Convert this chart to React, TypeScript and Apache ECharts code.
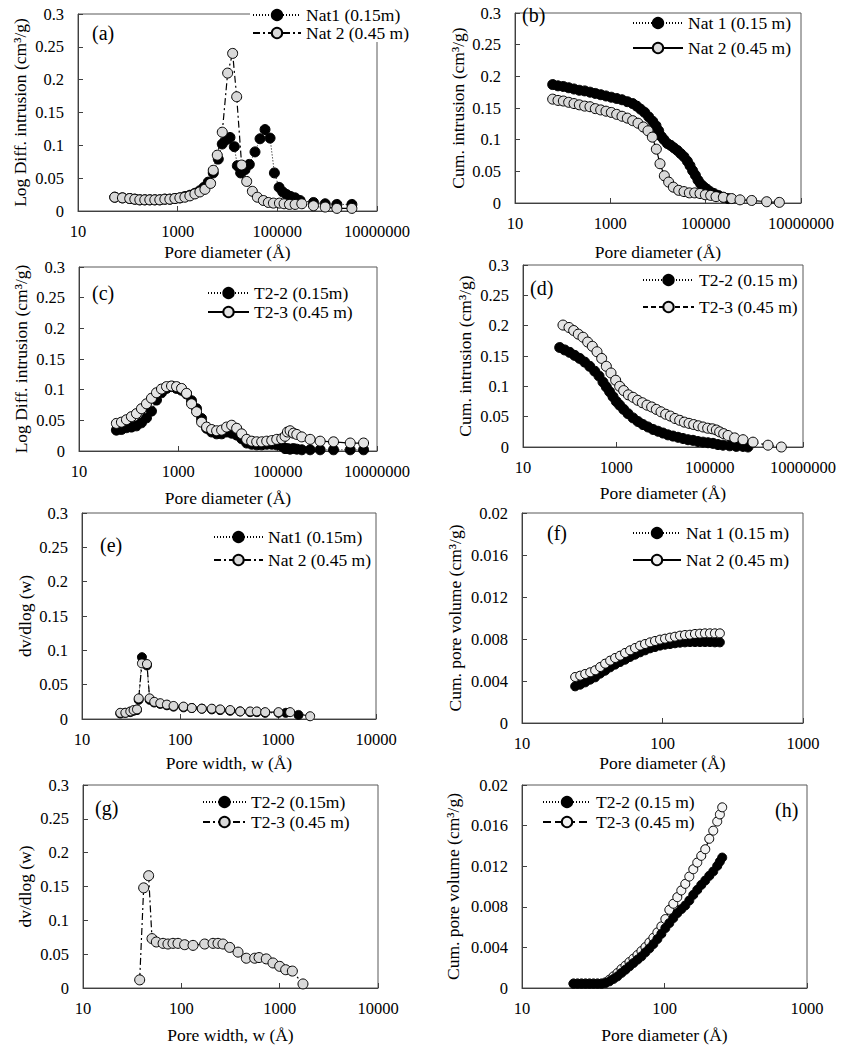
import React, { useEffect, useRef } from "react";
import * as echarts from "echarts";

const FONT = "Liberation Serif";

// ---------- (a) Log diff. intrusion, Nat ----------
const aNat1X = [54.6, 77.9, 109, 138, 174, 219, 276, 348, 438, 553, 697, 879, 1107, 1396, 1758, 2218, 2793, 3365, 4111, 5176, 6531, 7852, 9616, 11220, 13710, 15740, 18370, 22450, 27420, 35650, 44980, 56620, 71450, 87300, 108400, 128500, 154500, 185800, 227500, 286400, 531000, 912000, 1563000, 3133000];
const aNat1Y = [0.021, 0.020, 0.019, 0.018, 0.017, 0.017, 0.017, 0.017, 0.017, 0.018, 0.018, 0.019, 0.020, 0.022, 0.024, 0.027, 0.031, 0.036, 0.044, 0.058, 0.079, 0.102, 0.109, 0.112, 0.098, 0.069, 0.058, 0.063, 0.071, 0.090, 0.110, 0.124, 0.111, 0.058, 0.036, 0.029, 0.025, 0.022, 0.020, 0.016, 0.013, 0.011, 0.010, 0.010];
const aNat2X = [54.6, 77.9, 109, 138, 174, 219, 276, 348, 438, 553, 697, 879, 1107, 1396, 1758, 2218, 2793, 3524, 4581, 5176, 6237, 7852, 10070, 12680, 15280, 19230, 24270, 31550, 39720, 52480, 66070, 83370, 110200, 136500, 174900, 227500, 309700, 531000, 912000, 1563000, 3133000];
const aNat2Y = [0.021, 0.020, 0.019, 0.018, 0.017, 0.017, 0.017, 0.017, 0.017, 0.018, 0.018, 0.019, 0.020, 0.021, 0.023, 0.026, 0.029, 0.033, 0.042, 0.062, 0.085, 0.120, 0.210, 0.240, 0.174, 0.070, 0.045, 0.030, 0.021, 0.016, 0.013, 0.012, 0.012, 0.011, 0.010, 0.010, 0.011, 0.008, 0.006, 0.004, 0.004];

// ---------- (b) Cum. intrusion, Nat ----------
const bNat1X = [61.7, 79.8, 103.3, 133.6, 172.9, 223.7, 289.4, 374.5, 484.5, 627, 811, 1050, 1358, 1757, 2273, 2941, 3567, 4329, 5252, 6373, 7731, 9078, 10330, 11750, 13360, 15700, 18440, 21660, 25440, 29890, 35120, 41260, 46920, 53380, 60710, 69060, 78560, 89340, 104950, 123300, 149500, 184400, 234800, 298900];
const bNat1Y = [0.187, 0.185, 0.184, 0.182, 0.180, 0.178, 0.177, 0.175, 0.173, 0.171, 0.169, 0.167, 0.165, 0.163, 0.160, 0.157, 0.153, 0.148, 0.143, 0.136, 0.129, 0.122, 0.114, 0.105, 0.100, 0.094, 0.091, 0.087, 0.083, 0.078, 0.073, 0.066, 0.059, 0.051, 0.044, 0.036, 0.030, 0.026, 0.022, 0.018, 0.015, 0.012, 0.009, 0.007];
const bNat2X = [61.7, 79.8, 103.3, 133.6, 172.9, 223.7, 289.4, 374.5, 484.5, 627, 811, 1050, 1358, 1757, 2273, 2941, 3805, 4923, 6170, 7607, 9226, 11020, 13580, 16740, 20970, 27140, 35120, 45430, 58790, 76070, 98400, 127300, 164800, 234800, 351200, 525200, 922600, 1904000, 3512000];
const bNat2Y = [0.164, 0.162, 0.161, 0.159, 0.157, 0.155, 0.153, 0.152, 0.149, 0.147, 0.145, 0.143, 0.140, 0.137, 0.134, 0.130, 0.126, 0.120, 0.114, 0.104, 0.085, 0.062, 0.043, 0.033, 0.025, 0.020, 0.018, 0.016, 0.016, 0.015, 0.013, 0.012, 0.010, 0.009, 0.007, 0.005, 0.004, 0.002, 0.001];

// ---------- (c) Log diff. intrusion, T2 ----------
const cX = [56.6, 71.5, 90.2, 113.7, 143.5, 180.9, 228.3, 288, 363.3, 458.3, 578, 729.2, 919.8, 1160, 1464, 1846, 2329, 2938, 3707, 4676, 5898, 7440, 9385, 11840, 14940, 18840, 23770, 29990, 37830, 47720, 60190, 75930, 95760, 120800, 141000, 157200, 177900, 207700, 242500, 305900, 450600, 716900, 1332000, 2889000, 5367000];
const cT22Y = [0.034, 0.035, 0.038, 0.039, 0.041, 0.046, 0.054, 0.065, 0.083, 0.095, 0.102, 0.105, 0.102, 0.099, 0.093, 0.082, 0.069, 0.053, 0.037, 0.031, 0.028, 0.028, 0.031, 0.029, 0.026, 0.020, 0.013, 0.011, 0.010, 0.010, 0.011, 0.011, 0.010, 0.008, 0.004, 0.004, 0.003, 0.004, 0.003, 0.002, 0.002, 0.002, 0.002, 0.002, 0.002];
const cT23Y = [0.045, 0.047, 0.051, 0.056, 0.061, 0.069, 0.077, 0.086, 0.095, 0.101, 0.105, 0.106, 0.105, 0.102, 0.094, 0.077, 0.064, 0.047, 0.039, 0.035, 0.033, 0.034, 0.039, 0.042, 0.037, 0.028, 0.019, 0.016, 0.015, 0.015, 0.016, 0.017, 0.019, 0.020, 0.024, 0.031, 0.033, 0.029, 0.027, 0.023, 0.019, 0.016, 0.015, 0.013, 0.013];

// ---------- (d) Cum. intrusion, T2 ----------
const dT22X = [61.1, 78.1, 100, 128, 163.8, 209.6, 268.3, 343.4, 425.2, 518, 610.5, 719.7, 848.2, 1000, 1179, 1436, 1778, 2276, 2913, 3728, 4771, 6105, 7813, 10000, 12800, 16380, 20960, 26830, 34340, 43940, 56230, 71970, 92120, 117900, 150900, 193100, 268300, 372800, 518000, 662800];
const dT22Y = [0.164, 0.160, 0.156, 0.151, 0.146, 0.140, 0.133, 0.125, 0.117, 0.107, 0.099, 0.091, 0.083, 0.075, 0.069, 0.062, 0.055, 0.048, 0.042, 0.037, 0.033, 0.029, 0.026, 0.023, 0.020, 0.018, 0.016, 0.014, 0.012, 0.011, 0.009, 0.008, 0.007, 0.006, 0.004, 0.003, 0.002, 0.001, 0.001, 0.000];
const dT23X = [71.9, 96.8, 121.8, 153.3, 193.1, 243, 306, 385.2, 485, 610.5, 768.6, 967.6, 1179, 1436, 1808, 2276, 2865, 3607, 4541, 5717, 7197, 9061, 11410, 14360, 18080, 22760, 28650, 36070, 45410, 57170, 71970, 90610, 114100, 139000, 163800, 199500, 247100, 343400, 518000, 848200, 1778000, 3434000];
const dT23Y = [0.201, 0.197, 0.192, 0.186, 0.181, 0.173, 0.166, 0.157, 0.146, 0.133, 0.122, 0.110, 0.100, 0.093, 0.086, 0.082, 0.077, 0.073, 0.069, 0.066, 0.062, 0.058, 0.054, 0.051, 0.047, 0.044, 0.041, 0.039, 0.037, 0.035, 0.033, 0.031, 0.030, 0.028, 0.025, 0.022, 0.019, 0.015, 0.012, 0.008, 0.003, 0.000];

// ---------- (e) dv/dlog(w), Nat ----------
const eNat1X = [24.6, 27.7, 31.1, 33.6, 36.4, 37.9, 40.9, 46.0, 49.0, 54.6, 62.9, 73.5, 85.9, 108.6, 132, 167, 211, 257, 325, 411, 520, 608, 740, 1012, 1200, 1618];
const eNat1Y = [0.008, 0.009, 0.010, 0.012, 0.013, 0.028, 0.090, 0.078, 0.028, 0.024, 0.022, 0.020, 0.018, 0.017, 0.016, 0.015, 0.014, 0.013, 0.012, 0.011, 0.010, 0.010, 0.009, 0.009, 0.009, 0.006];
const eNat2X = [24.6, 27.7, 31.1, 33.6, 36.4, 37.9, 40.9, 46.0, 49.0, 54.6, 62.9, 73.5, 85.9, 108.6, 132, 167, 211, 257, 325, 411, 520, 608, 740, 1012, 1330, 2128];
const eNat2Y = [0.009, 0.009, 0.011, 0.013, 0.014, 0.030, 0.081, 0.080, 0.030, 0.025, 0.023, 0.021, 0.019, 0.018, 0.016, 0.015, 0.015, 0.014, 0.013, 0.011, 0.011, 0.011, 0.010, 0.010, 0.010, 0.004];

// ---------- (f) Cum. pore volume, Nat ----------
const fX = [23.9, 25.96, 28.18, 30.57, 33.17, 36.0, 39.06, 42.4, 46.0, 49.9, 54.17, 58.78, 63.78, 69.22, 75.12, 81.5, 88.45, 95.98, 104.2, 113.1, 122.7, 133.2, 144.5, 156.8, 170.2, 184.7, 200.4, 217.5, 236.0, 256.1];
const fNat1Y = [0.00349, 0.00365, 0.00387, 0.00413, 0.00435, 0.00470, 0.00498, 0.00530, 0.00556, 0.00581, 0.00603, 0.00629, 0.00651, 0.00673, 0.00692, 0.00711, 0.00724, 0.00737, 0.00746, 0.00752, 0.00759, 0.00765, 0.00768, 0.00771, 0.00771, 0.00771, 0.00771, 0.00771, 0.00768, 0.00768];
const fNat2Y = [0.00438, 0.00451, 0.00467, 0.00483, 0.00502, 0.00533, 0.00565, 0.00594, 0.00619, 0.00641, 0.00667, 0.00692, 0.00714, 0.00737, 0.00752, 0.00768, 0.00781, 0.00794, 0.00803, 0.00813, 0.00822, 0.00832, 0.00838, 0.00841, 0.00848, 0.00851, 0.00854, 0.00854, 0.00854, 0.00854];

// ---------- (g) dv/dlog(w), T2 ----------
const gT22X: number[] = [];
const gT22Y: number[] = [];
const gT23X = [37.7, 41.4, 46.5, 50.3, 55.7, 65.2, 73.1, 82.2, 92.5, 108, 131.5, 172.7, 210, 236, 265, 310, 377, 458, 557, 617, 731, 855, 1000, 1151, 1346, 1726];
const gT23Y = [0.012, 0.148, 0.166, 0.073, 0.068, 0.066, 0.065, 0.066, 0.066, 0.064, 0.063, 0.065, 0.066, 0.066, 0.065, 0.060, 0.053, 0.044, 0.044, 0.045, 0.043, 0.037, 0.032, 0.027, 0.025, 0.006];

// ---------- (h) Cum. pore volume, T2 ----------
const hX = [23.0, 24.53, 26.16, 27.91, 29.77, 31.76, 33.88, 36.13, 38.54, 41.11, 43.84, 46.77, 49.88, 53.2, 56.75, 60.53, 64.56, 68.86, 73.45, 78.34, 83.56, 89.13, 95.07, 101.4, 108.1, 115.3, 123, 131.2, 139.9, 149.3, 159.2, 169.8, 181.1, 193.2, 206.1, 219.8, 234.4, 244.7, 254.1];
const hT22Y = [0.00043, 0.00043, 0.00043, 0.00043, 0.00043, 0.00043, 0.00043, 0.00043, 0.00049, 0.00066, 0.00089, 0.00115, 0.00148, 0.0018, 0.00213, 0.00246, 0.00279, 0.00311, 0.00351, 0.0039, 0.00433, 0.00482, 0.00534, 0.0059, 0.00639, 0.00689, 0.00738, 0.00777, 0.00813, 0.00862, 0.00918, 0.00967, 0.01016, 0.01059, 0.01105, 0.01148, 0.01203, 0.01246, 0.01285];
const hT23Y = [0.00043, 0.00043, 0.00043, 0.00043, 0.00043, 0.00043, 0.00043, 0.00043, 0.00056, 0.00082, 0.00115, 0.00148, 0.00187, 0.0022, 0.00256, 0.00289, 0.00325, 0.00364, 0.00403, 0.00449, 0.00495, 0.00548, 0.00607, 0.00679, 0.0077, 0.0083, 0.00895, 0.00961, 0.01026, 0.01098, 0.0117, 0.01236, 0.01302, 0.01367, 0.0147, 0.0155, 0.0164, 0.0171, 0.0178];

// ---------- texts ----------
const panelLetters = ["(a)", "(b)", "(c)", "(d)", "(e)", "(f)", "(g)", "(h)"];
const xTitles = ["Pore diameter (Å)", "Pore diameter (Å)", "Pore diameter (Å)", "Pore diameter (Å)", "Pore width, w (Å)", "Pore diameter (Å)", "Pore width, w (Å)", "Pore diameter (Å)"];
const yTitles = ["Log Diff. intrusion (cm³/g)", "Cum. intrusion (cm³/g)", "Log Diff. intrusion (cm³/g)", "Cum. intrusion (cm³/g)", "dv/dlog (w)", "Cum. pore volume (cm³/g)", "dv/dlog (w)", "Cum. pore volume (cm³/g)"];
const legendLabels = [
  ["Nat1 (0.15m)", "Nat 2 (0.45 m)"],
  ["Nat 1 (0.15 m)", "Nat 2 (0.45 m)"],
  ["T2-2 (0.15m)", "T2-3 (0.45 m)"],
  ["T2-2 (0.15 m)", "T2-3 (0.45 m)"],
  ["Nat1 (0.15m)", "Nat 2 (0.45 m)"],
  ["Nat 1 (0.15 m)", "Nat 2 (0.45 m)"],
  ["T2-2 (0.15m)", "T2-3 (0.45 m)"],
  ["T2-2 (0.15 m)", "T2-3 (0.45 m)"],
];

const zip = (xs: number[], ys: number[]) => xs.map((x, i) => [x, ys[i]]);

const panelData = [
  [zip(aNat1X, aNat1Y), zip(aNat2X, aNat2Y)],
  [zip(bNat1X, bNat1Y), zip(bNat2X, bNat2Y)],
  [zip(cX, cT22Y), zip(cX, cT23Y)],
  [zip(dT22X, dT22Y), zip(dT23X, dT23Y)],
  [zip(eNat1X, eNat1Y), zip(eNat2X, eNat2Y)],
  [zip(fX, fNat1Y), zip(fX, fNat2Y)],
  [zip(gT22X, gT22Y), zip(gT23X, gT23Y)],
  [zip(hX, hT22Y), zip(hX, hT23Y)],
];

// layout / style per panel
type L = {
  grid: number[]; xr: number[]; yr: number[]; xg: number; yg: number;
  leg: number[]; letter: number[]; size: number; fill: string; dash2: any; blackTop?: boolean;
};
const layout: L[] = [
  { grid: [78, 14, 299, 197], xr: [10, 1e7, 2], yr: [0.3, 0.05], xg: 32, yg: 49, leg: [252, 6, 0, 48], letter: [92, 33], size: 10, fill: "#d9d9d9", dash2: [7, 3, 2, 3] },
  { grid: [515, 13, 286, 190], xr: [10, 1e7, 2], yr: [0.3, 0.05], xg: 40, yg: 48, leg: [632, 14, 7, 50], letter: [522, 15], size: 10, fill: "#d9d9d9", dash2: "solid" },
  { grid: [79, 267, 298, 184], xr: [10, 1e7, 2], yr: [0.3, 0.05], xg: 38, yg: 49, leg: [207, 284, 1, 41], letter: [92, 293], size: 10, fill: "#e4e4e4", dash2: "solid" },
  { grid: [523, 265, 280, 182], xr: [10, 1e7, 2], yr: [0.3, 0.05], xg: 37, yg: 49, leg: [642, 271, 9, 51], letter: [530, 288], size: 10, fill: "#e4e4e4", dash2: [5, 3] },
  { grid: [82, 513, 294, 206], xr: [10, 10000, 1], yr: [0.3, 0.05], xg: 35, yg: 48, leg: [213, 528, 5, 49], letter: [100, 545], size: 9, fill: "#d9d9d9", dash2: [7, 3, 2, 3] },
  { grid: [522, 513, 281, 210], xr: [10, 1000, 1], yr: [0.02, 0.004], xg: 31, yg: 58, leg: [632, 524, 9, 48], letter: [547, 533], size: 9, fill: "#efefef", dash2: "solid" },
  { grid: [83, 785, 295, 203], xr: [10, 10000, 1], yr: [0.3, 0.05], xg: 38, yg: 49, leg: [202, 793, 2, 43], letter: [95, 808], size: 10, fill: "#d9d9d9", dash2: [7, 3, 2, 3] },
  { grid: [522, 785, 285, 203], xr: [10, 1000, 1], yr: [0.02, 0.004], xg: 38, yg: 60, leg: [542, 793, 2, 48], letter: [775, 810], size: 9, fill: "#f4f4f4", dash2: [8, 4], blackTop: true },
];

const AX = "#404040";

function buildOption() {
  const grid: any[] = [];
  const xAxis: any[] = [];
  const yAxis: any[] = [];
  const series: any[] = [];
  const legend: any[] = [];
  const graphic: any[] = [];
  const labelById: Record<string, string> = {};

  layout.forEach((p, i) => {
    const [l, t, w, h] = p.grid;
    grid.push({ left: l, top: t, width: w, height: h, show: true, borderColor: "#595959", borderWidth: 1, backgroundColor: "transparent" });
    xAxis.push({
      type: "log", logBase: 10, gridIndex: i, min: p.xr[0], max: p.xr[1], interval: p.xr[2],
      name: xTitles[i], nameLocation: "middle", nameGap: p.xg,
      nameTextStyle: { fontFamily: FONT, fontSize: 17.5, color: "#000" },
      axisLine: { show: true, lineStyle: { color: AX, width: 1 } },
      axisTick: { show: true, inside: true, length: 5, lineStyle: { color: AX } },
      minorTick: { show: false },
      splitLine: { show: false },
      axisLabel: { fontFamily: FONT, fontSize: 16.5, color: "#000", margin: 12, formatter: (v: number) => String(Math.round(v)) },
    });
    yAxis.push({
      type: "value", gridIndex: i, min: 0, max: p.yr[0], interval: p.yr[1],
      name: yTitles[i], nameLocation: "middle", nameGap: p.yg,
      nameTextStyle: { fontFamily: FONT, fontSize: 17.5, color: "#000" },
      axisLine: { show: true, lineStyle: { color: AX, width: 1 } },
      axisTick: { show: true, inside: true, length: 5, lineStyle: { color: AX } },
      splitLine: { show: false },
      axisLabel: { fontFamily: FONT, fontSize: 16.5, color: "#000", margin: 14 },
    });
    const id1 = `s${i}a`;
    const id2 = `s${i}b`;
    labelById[id1] = legendLabels[i][0];
    labelById[id2] = legendLabels[i][1];
    const s1 = {
      type: "line", name: id1, xAxisIndex: i, yAxisIndex: i, data: panelData[i][0],
      symbol: "circle", symbolSize: p.size, showSymbol: true,
      itemStyle: { color: "#000", borderColor: "#000", borderWidth: 1 },
      lineStyle: { color: "#000", width: 1, type: [1, 2] },
      emphasis: { disabled: true }, z: p.blackTop ? 3 : 2,
    };
    const s2 = {
      type: "line", name: id2, xAxisIndex: i, yAxisIndex: i, data: panelData[i][1],
      symbol: "circle", symbolSize: p.size, showSymbol: true,
      itemStyle: { color: p.fill, borderColor: "#000", borderWidth: 1 },
      lineStyle: { color: "#000", width: 1.2, type: p.dash2 },
      emphasis: { disabled: true }, z: p.blackTop ? 2 : 3,
    };
    series.push(s1, s2);
    legend.push({
      data: [id1, id2], orient: "vertical", left: p.leg[0] - 2, top: p.leg[1],
      itemGap: p.leg[2], itemWidth: p.leg[3], itemHeight: 13,
      padding: [0, 2, 0, 2], backgroundColor: "#fff",
      formatter: (n: string) => labelById[n],
      textStyle: { fontFamily: FONT, fontSize: 17.5, color: "#000" },
      selectedMode: false,
    });
    graphic.push({
      type: "text", x: p.letter[0], y: p.letter[1], z: 10,
      style: { text: panelLetters[i], fontFamily: FONT, fontSize: 20, fill: "#000", verticalAlign: "middle", align: "left" },
    });
  });

  return {
    animation: false, backgroundColor: "#fff",
    textStyle: { fontFamily: FONT },
    grid, xAxis, yAxis, series, legend, graphic,
  };
}

export default function App() {
  const ref = useRef<HTMLDivElement>(null);
  useEffect(() => {
    document.body.style.margin = "0";
    if (!ref.current) return;
    const chart = echarts.init(ref.current, undefined, { renderer: "svg" });
    chart.setOption(buildOption() as any);
    return () => chart.dispose();
  }, []);
  return <div ref={ref} style={{ position: "absolute", left: 0, top: 0, width: 841, height: 1048 }} />;
}
